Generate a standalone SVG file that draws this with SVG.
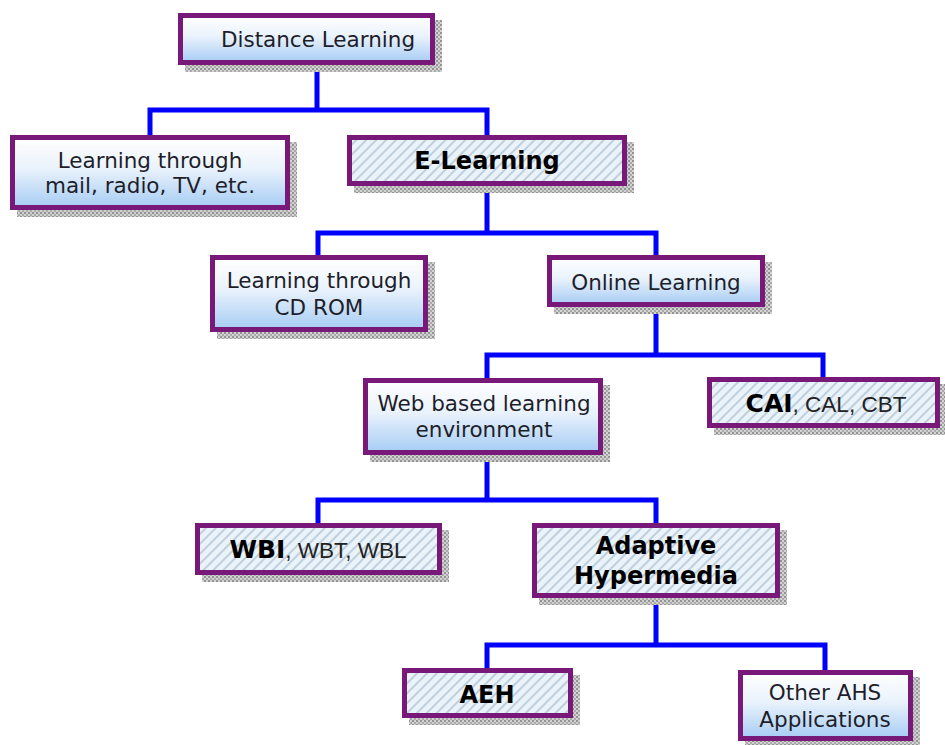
<svg xmlns="http://www.w3.org/2000/svg" width="945" height="745" viewBox="0 0 945 745">
<defs>
<linearGradient id="grad" x1="0" y1="0" x2="0" y2="1">
<stop offset="0" stop-color="#ffffff"/>
<stop offset="0.45" stop-color="#e9f2fc"/>
<stop offset="1" stop-color="#a6ccf4"/>
</linearGradient>
<pattern id="hatch" width="7" height="7" patternUnits="userSpaceOnUse" patternTransform="rotate(45)">
<rect width="7" height="7" fill="#eaf3fa"/>
<line x1="1" y1="0" x2="1" y2="7" stroke="#a9bccd" stroke-width="1.3"/>
</pattern>
<pattern id="shade" width="4" height="4" patternUnits="userSpaceOnUse">
<rect width="4" height="4" fill="#d2d2d2"/>
<rect width="2" height="2" fill="#939393"/>
<rect x="2" y="2" width="2" height="2" fill="#aaaaaa"/>
</pattern>
</defs>
<style>
.box{stroke:#781878;stroke-width:5}
.grad{fill:url(#grad)}
.hat{fill:url(#hatch)}
.sh{fill:url(#shade)}
.conn{fill:none;stroke:#0000ff;stroke-width:5}
text{font-family:"DejaVu Sans",Verdana,sans-serif;font-size:21.5px;fill:#1e1e2a;text-anchor:middle}
.b{font-weight:bold;fill:#000;font-size:24px}
.bb{font-weight:bold;fill:#000;font-size:25px}
.ar{font-family:"Liberation Sans",Arial,sans-serif;font-size:22.5px;fill:#222;font-weight:normal}
</style>
<rect width="945" height="745" fill="#ffffff"/>
<g id="connectors">
<path class="conn" d="M150,135 V110 H487 V135 M317,65 V110"/>
<path class="conn" d="M318,255 V233 H656 V255 M487,187 V233"/>
<path class="conn" d="M487,378 V355 H823 V377 M656,307 V355"/>
<path class="conn" d="M318,523 V500 H656 V523 M487,455 V500"/>
<path class="conn" d="M487,668 V645 H825 V670 M656,598 V645"/>
</g>
<g id="distance-learning">
<rect class="sh" x="185" y="20" width="257" height="52"/>
<rect class="box grad" x="180.5" y="15.5" width="252" height="47"/>
<text x="318" y="47">Distance Learning</text>
</g>
<g id="mail-radio-tv">
<rect class="sh" x="17" y="142" width="280" height="75"/>
<rect class="box grad" x="12.5" y="137.5" width="275" height="70"/>
<text x="150" y="168">Learning through</text>
<text x="150" y="193">mail, radio, TV, etc.</text>
</g>
<g id="e-learning">
<rect class="sh" x="354" y="142" width="280" height="51"/>
<rect class="box hat" x="349.5" y="137.5" width="275" height="46"/>
<text class="b" x="487" y="169">E-Learning</text>
</g>
<g id="cd-rom">
<rect class="sh" x="217" y="262" width="218" height="77"/>
<rect class="box grad" x="212.5" y="257.5" width="213" height="72"/>
<text x="319" y="288">Learning through</text>
<text x="319" y="315">CD ROM</text>
</g>
<g id="online-learning">
<rect class="sh" x="554" y="262" width="218" height="52"/>
<rect class="box grad" x="549.5" y="257.5" width="213" height="47"/>
<text x="656" y="290">Online Learning</text>
</g>
<g id="web-based">
<rect class="sh" x="370" y="385" width="240" height="77"/>
<rect class="box grad" x="365.5" y="380.5" width="235" height="72"/>
<text x="484" y="411">Web based learning</text>
<text x="484" y="437">environment</text>
</g>
<g id="cai">
<rect class="sh" x="714" y="384" width="233" height="51"/>
<rect class="box hat" x="709.5" y="379.5" width="228" height="46"/>
<text x="826" y="412"><tspan class="bb">CAI</tspan><tspan class="ar">, CAL, CBT</tspan></text>
</g>
<g id="wbi">
<rect class="sh" x="202" y="530" width="247" height="52"/>
<rect class="box hat" x="197.5" y="525.5" width="242" height="47"/>
<text x="318" y="558"><tspan class="bb">WBI</tspan><tspan class="ar">, WBT, WBL</tspan></text>
</g>
<g id="adaptive-hypermedia">
<rect class="sh" x="539" y="530" width="248" height="75"/>
<rect class="box hat" x="534.5" y="525.5" width="243" height="70"/>
<text class="b" x="656" y="554">Adaptive</text>
<text class="b" x="656" y="584">Hypermedia</text>
</g>
<g id="aeh">
<rect class="sh" x="409" y="675" width="171" height="50"/>
<rect class="box hat" x="404.5" y="670.5" width="166" height="45"/>
<text class="b" x="487" y="703">AEH</text>
</g>
<g id="other-ahs">
<rect class="sh" x="745" y="677" width="175" height="71"/>
<rect class="box grad" x="740.5" y="672.5" width="170" height="66"/>
<text x="825" y="700">Other AHS</text>
<text x="825" y="727">Applications</text>
</g>
</svg>
